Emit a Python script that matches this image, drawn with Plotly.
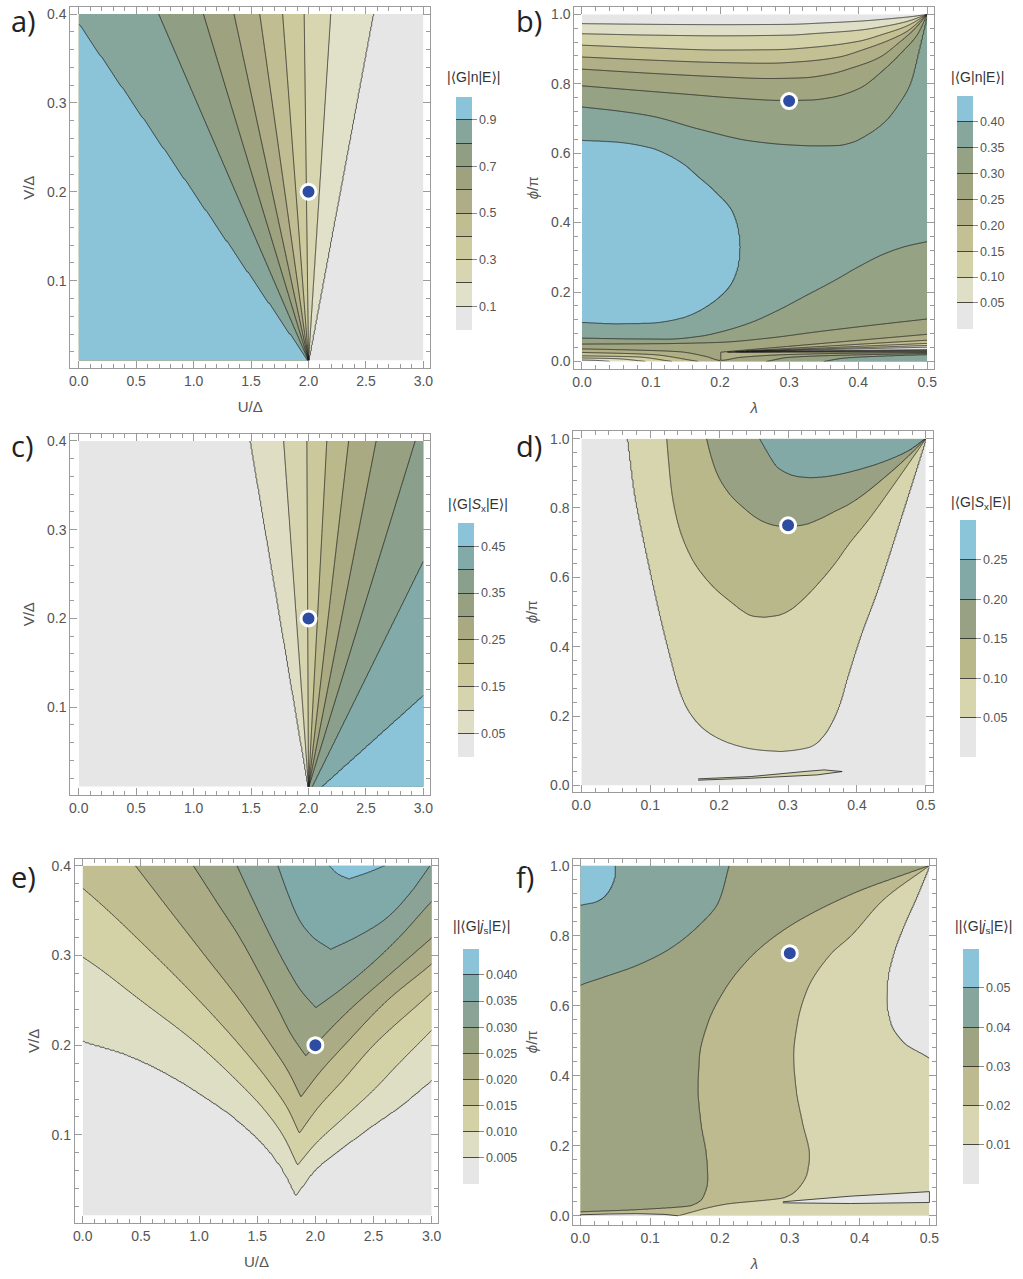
import numpy as np
import plotly.graph_objects as go

W, H = 1023, 1279

# ---------------- (a) |<G|n|E>| over U/Delta, V/Delta ----------------
a_levels = [0.1, 0.2, 0.3, 0.4, 0.5, 0.6, 0.7, 0.8, 0.9]
a_foot_U = [2.0, 2.0, 2.0, 2.0, 2.0, 2.0, 2.0, 2.0, 2.0]          # U of each line at V = 0.01
a_top_U = [2.562, 2.193, 1.962, 1.775, 1.576, 1.352, 1.086, 0.697, -0.053]  # U at V = 0.4
a_colors = ['#e6e6e6', '#e1e0c8', '#d8d6b1', '#cdcb9e', '#bfbd91', '#aead87',
            '#9ea27f', '#909f84', '#86a59b', '#8bc4d8']

# ---------------- (c) |<G|S_x|E>| over U/Delta, V/Delta ----------------
c_levels = [0.05, 0.10, 0.15, 0.20, 0.25, 0.30, 0.35, 0.40, 0.45]
c_foot_U = [2.0, 2.0, 2.0, 2.0, 2.0, 2.0, 2.0, 2.03, 2.107]
c_top_U = [1.496, 1.784, 1.986, 2.159, 2.349, 2.588, 2.928, 3.514, 5.456]
c_colors = ['#e6e6e6', '#dfdec5', '#d6d4ae', '#cbc99c', '#bab98c', '#a9aa82',
            '#97a080', '#8aa08c', '#81aaa8', '#8bc4d8']

# ---------------- (e) ||<G|j_s|E>| over U/Delta, V/Delta ----------------
e_levels = [0.005, 0.010, 0.015, 0.020, 0.025, 0.030, 0.035, 0.040]
e_left_V = [[0.033, 0.058, 0.084, 0.119, 0.145, 0.1675, 0.191, 0.205, 0.40],
            [0.0663, 0.10, 0.13, 0.16, 0.20, 0.25, 0.2984, 0.40],
            [0.1019, 0.13, 0.16, 0.20, 0.25, 0.30, 0.375, 0.40],
            [0.1423, 0.17, 0.20, 0.25, 0.30, 0.35, 0.40],
            [0.188, 0.21, 0.24, 0.28, 0.32, 0.36, 0.40],
            [0.2417, 0.26, 0.29, 0.32, 0.36, 0.40],
            [0.3066, 0.32, 0.34, 0.37, 0.40],
            [0.385, 0.39, 0.40]]
e_left_U = [[1.833, 1.734, 1.591, 1.307, 1.022, 0.737, 0.35, 0.0, -3.5],
            [1.847, 1.72, 1.55, 1.33, 1.0, 0.5, 0.0, -1.5],
            [1.862, 1.76, 1.6, 1.35, 1.0, 0.62, 0.0, -0.25],
            [1.876, 1.77, 1.62, 1.35, 1.05, 0.75, 0.453],
            [1.918, 1.8, 1.68, 1.52, 1.35, 1.15, 0.951],
            [2.004, 1.88, 1.74, 1.62, 1.47, 1.326],
            [2.132, 1.98, 1.86, 1.76, 1.677],
            [2.289, 2.2, 2.118]]
e_right_V = [[0.033, 0.0637, 0.0785, 0.1063, 0.1323, 0.1612, 0.40],
             [0.0663, 0.09, 0.12, 0.15, 0.18, 0.2168, 0.40],
             [0.1019, 0.13, 0.16, 0.20, 0.259, 0.40],
             [0.1423, 0.17, 0.20, 0.25, 0.2906, 0.40],
             [0.188, 0.21, 0.24, 0.28, 0.3195, 0.40],
             [0.2417, 0.26, 0.29, 0.32, 0.3603, 0.40],
             [0.3066, 0.32, 0.34, 0.37, 0.40],
             [0.385, 0.392, 0.40]]
e_right_U = [[1.833, 2.018, 2.161, 2.445, 2.730, 3.0, 5.2],
             [1.847, 2.0, 2.25, 2.5, 2.72, 3.0, 4.3],
             [1.862, 2.02, 2.23, 2.5, 3.0, 4.1],
             [1.876, 2.04, 2.25, 2.62, 3.0, 3.9],
             [1.918, 2.07, 2.3, 2.65, 3.0, 3.7],
             [2.004, 2.2, 2.48, 2.72, 3.0, 3.3],
             [2.132, 2.35, 2.6, 2.82, 2.986],
             [2.289, 2.45, 2.6]]
# bottom of the valley-shaped surface (lowest V reached by each line)
e_ridge_V = [0.01, 0.033, 0.0663, 0.1019, 0.1423, 0.188, 0.2417, 0.3066, 0.385, 0.40]
e_ridge_U = [1.83, 1.833, 1.847, 1.862, 1.876, 1.918, 2.004, 2.132, 2.289, 2.30]
e_ridge_z = [0.003, 0.005, 0.010, 0.015, 0.020, 0.025, 0.030, 0.035, 0.040, 0.0412]
e_colors = ['#e6e6e6', '#dedec4', '#d3d1a6', '#c1bf92', '#abab85', '#99a282',
            '#8aa396', '#80aaa9', '#8bc4d8']

# ---------------- (d) |<G|S_x|E>| over lambda, phi/pi ----------------
d_levels = [0.05, 0.10, 0.15, 0.20]
d_left_phi = [[0.098, 0.102, 0.113, 0.135, 0.16, 0.19, 0.23, 0.28, 0.367, 0.4626, 0.558, 0.6545, 0.75, 0.846, 1.0],
              [0.4846, 0.4875, 0.5, 0.5202, 0.5777, 0.6545, 0.7505, 0.8464, 0.9424, 1.0],
              [0.7457, 0.748, 0.7553, 0.77, 0.798, 0.84, 0.894, 0.95, 1.0],
              [0.8868, 0.89, 0.904, 0.92, 0.9424, 0.97, 1.0]]
d_left_lam = [[0.2896, 0.26, 0.23, 0.20, 0.18, 0.165, 0.152, 0.142, 0.130, 0.118, 0.107, 0.0965, 0.0865, 0.0775, 0.0677],
              [0.2656, 0.25, 0.236, 0.2224, 0.1888, 0.16, 0.1407, 0.1311, 0.1263, 0.1239],
              [0.2992, 0.285, 0.2704, 0.255, 0.2368, 0.215, 0.198, 0.188, 0.1816],
              [0.3329, 0.315, 0.2944, 0.283, 0.2752, 0.267, 0.2584]]
d_right_phi = [[0.098, 0.102, 0.112, 0.14, 0.175, 0.23, 0.309, 0.43, 0.5585, 0.78, 1.0],
               [0.4846, 0.49, 0.5055, 0.5298, 0.58, 0.6353, 0.70, 0.760, 0.88, 1.0],
               [0.7457, 0.75, 0.765, 0.79, 0.8129, 0.8848, 0.95, 1.0],
               [0.8868, 0.889, 0.895, 0.904, 0.933, 0.965, 1.0]]
d_right_lam = [[0.2896, 0.31, 0.333, 0.35, 0.3617, 0.374, 0.3857, 0.405, 0.4289, 0.465, 0.5],
               [0.2656, 0.285, 0.303, 0.3184, 0.343, 0.3665, 0.39, 0.4145, 0.458, 0.5],
               [0.2992, 0.32, 0.3425, 0.368, 0.3905, 0.4385, 0.475, 0.5],
               [0.3329, 0.35, 0.37, 0.3905, 0.4385, 0.475, 0.5]]
d_ridge_phi = [0.0, 0.098, 0.4846, 0.7457, 0.8868, 1.0]
d_ridge_lam = [0.29, 0.2896, 0.2656, 0.2992, 0.3329, 0.40]
d_ridge_z = [0.03, 0.05, 0.10, 0.15, 0.20, 0.245]
d_sliver_lam = [0.1695, 0.2464, 0.3232, 0.3521, 0.3785, 0.3425, 0.2464, 0.1695]
d_sliver_phi = [0.0192, 0.0259, 0.0403, 0.0451, 0.0403, 0.0307, 0.0211, 0.0154]
d_colors = ['#e6e6e6', '#d7d5ae', '#b9b88b', '#98a183', '#82a9a6', '#8bc5d9']

# ---------------- (f) ||<G|j_s|E>| over lambda, phi/pi ----------------
f_levels = [0.01, 0.02, 0.03, 0.04, 0.05]
f_line_phi = [[0.0, 0.3, 0.449, 0.494, 0.551, 0.618, 0.675, 0.751, 0.827, 0.9125, 1.0],
              [0.0, 0.033, 0.052, 0.076, 0.124, 0.171, 0.266, 0.361, 0.456, 0.551, 0.646, 0.748, 0.798, 0.903, 1.0],
              [0.0, 0.011, 0.017, 0.029, 0.052, 0.105, 0.171, 0.266, 0.361, 0.456, 0.551, 0.646, 0.741, 0.817, 0.917, 1.0],
              [0.0, 0.5, 0.658, 0.680, 0.713, 0.760, 0.827, 0.8935, 1.0],
              [0.0, 0.8, 0.886, 0.8954, 0.913, 0.941, 0.970, 1.0]]
f_line_lam = [[0.75, 0.58, 0.5, 0.463, 0.444, 0.4383, 0.440, 0.4488, 0.463, 0.482, 0.5],
              [0.14, 0.207, 0.292, 0.311, 0.325, 0.328, 0.318, 0.309, 0.3055, 0.311, 0.325, 0.359, 0.387, 0.4345, 0.5],
              [-0.1, 0.0, 0.079, 0.159, 0.176, 0.183, 0.181, 0.173, 0.169, 0.171, 0.183, 0.207, 0.245, 0.292, 0.387, 0.5],
              [-0.45, -0.1, 0.0, 0.0313, 0.0787, 0.1262, 0.1689, 0.1973, 0.213],
              [-0.6, -0.08, 0.0, 0.0218, 0.036, 0.0455, 0.0503, 0.0512]]
f_wedge_lam = [0.29, 0.387, 0.5, 0.5, 0.387, 0.29]
f_wedge_phi = [0.040, 0.056, 0.069, 0.038, 0.035, 0.037]
f_bump_lam = [0.0, 0.0, 0.04, 0.08, 0.12, 0.14]
f_bump_phi = [0.0, 0.003, 0.005, 0.006, 0.004, 0.0]
f_colors = ['#e6e6e6', '#d8d6b0', '#bcba8e', '#9ea482', '#86a69d', '#8bc4d8']

# ---------------- (b) |<G|n|E>| over lambda, phi/pi ----------------
b_up_levels = [0.05, 0.10, 0.15, 0.20, 0.25, 0.30, 0.35]
b_up_lam = [[0, 0.1, 0.2, 0.3, 0.35, 0.4, 0.45, 0.48, 0.5],
            [0, 0.1, 0.2, 0.3, 0.34, 0.4, 0.44, 0.47, 0.5],
            [0, 0.1, 0.2, 0.28, 0.34, 0.4, 0.44, 0.47, 0.5],
            [0, 0.1, 0.2, 0.27, 0.32, 0.37, 0.41, 0.45, 0.47, 0.5],
            [0, 0.1, 0.2, 0.27, 0.32, 0.36, 0.39, 0.43, 0.46, 0.48, 0.5],
            [0, 0.08, 0.15, 0.22, 0.29, 0.33, 0.36, 0.40, 0.44, 0.465, 0.485, 0.5],
            [0, 0.05, 0.1, 0.17, 0.245, 0.30, 0.34, 0.37, 0.39, 0.415, 0.44, 0.46, 0.475, 0.49, 0.5]]
b_up_phi = [[0.973, 0.971, 0.970, 0.971, 0.975, 0.980, 0.988, 0.994, 1.0],
            [0.944, 0.940, 0.938, 0.940, 0.945, 0.954, 0.966, 0.979, 1.0],
            [0.911, 0.903, 0.897, 0.898, 0.906, 0.922, 0.945, 0.966, 1.0],
            [0.877, 0.868, 0.861, 0.859, 0.864, 0.876, 0.90, 0.93, 0.95, 1.0],
            [0.842, 0.830, 0.820, 0.815, 0.817, 0.828, 0.845, 0.875, 0.92, 0.955, 1.0],
            [0.794, 0.781, 0.770, 0.759, 0.752, 0.753, 0.760, 0.785, 0.846, 0.895, 0.94, 1.0],
            [0.733, 0.722, 0.707, 0.669, 0.635, 0.624, 0.621, 0.622, 0.630, 0.655, 0.693, 0.745, 0.798, 0.914, 1.0]]
b_blob_top_lam = [0.0, 0.05, 0.1, 0.125, 0.15, 0.17, 0.185, 0.198, 0.208, 0.216, 0.221, 0.2245,
                  0.227, 0.2285, 0.2293, 0.2296]
b_blob_top_phi = [0.637, 0.632, 0.615, 0.595, 0.565, 0.530, 0.505, 0.480, 0.460, 0.440, 0.420, 0.400,
                  0.380, 0.360, 0.345, 0.328]
b_blob_bot_lam = [0.0, 0.05, 0.1, 0.125, 0.15, 0.17, 0.19, 0.205, 0.214, 0.22, 0.224, 0.227, 0.2285,
                  0.2293, 0.2296]
b_blob_bot_phi = [0.112, 0.108, 0.110, 0.116, 0.128, 0.145, 0.170, 0.195, 0.215, 0.235, 0.255, 0.275,
                  0.295, 0.310, 0.328]
b_low_levels = [0.05, 0.10, 0.15, 0.20, 0.25, 0.30, 0.35]
b_low_lam = [[0, 0.02, 0.04],
             [0, 0.05, 0.0916],
             [0, 0.08, 0.13],
             [0, 0.10, 0.168],
             [0, 0.07, 0.14, 0.18, 0.20, 0.23, 0.3, 0.4, 0.5],
             [0, 0.1, 0.2, 0.27, 0.34, 0.42, 0.5],
             [0, 0.06, 0.125, 0.17, 0.207, 0.245, 0.283, 0.325, 0.365, 0.40, 0.437, 0.47, 0.5]]
b_low_phi = [[0.004, 0.003, 0.0],
             [0.010, 0.008, 0.0],
             [0.016, 0.013, 0.0],
             [0.026, 0.020, 0.0],
             [0.036, 0.033, 0.028, 0.014, 0.003, 0.012, 0.020, 0.024, 0.026],
             [0.050, 0.051, 0.055, 0.067, 0.085, 0.104, 0.122],
             [0.067, 0.065, 0.064, 0.072, 0.088, 0.112, 0.146, 0.19, 0.232, 0.272, 0.309, 0.332, 0.345]]
# narrow trough near phi = 0.03 with the lines packed on either side of it
b_trough_lam = [0.20, 0.24, 0.5]
b_trough_phi = [0.026, 0.029, 0.036]
b_trough_z = [0.249, 0.0, 0.0]
b_above_levels = [0.05, 0.10, 0.15, 0.20, 0.25]
b_above_end_phi = [0.041, 0.046, 0.052, 0.061, 0.078]
b_below_levels = [0.05, 0.10, 0.15, 0.20]
b_below_end_phi = [0.034, 0.032, 0.030, 0.028]
b_below_extra = [(0.30, [0.267, 0.3, 0.4, 0.5], [0.0, 0.012, 0.019, 0.023]),
                 (0.35, [0.35, 0.38, 0.44, 0.5], [0.0, 0.010, 0.016, 0.020])]
b_floor_lam = [0, 0.04, 0.0916, 0.13, 0.168, 0.20, 0.267, 0.35, 0.5]
b_floor_z = [0.0, 0.05, 0.10, 0.15, 0.20, 0.25, 0.30, 0.35, 0.375]
b_ridge_lam = [0, 0.2296, 0.35, 0.5]
b_ridge_phi = [0.36, 0.328, 0.42, 0.60]
b_ridge_z = [0.43, 0.40, 0.38, 0.375]
b_colors = ['#e6e6e6', '#dfdec7', '#d3d1a7', '#c3c194', '#b0af87', '#a2a680',
            '#96a284', '#87a69c', '#8bc4d8']

# marked working points
pt_U, pt_V = 2.0, 0.2
pt_lam, pt_phi = 0.3, 0.75


def pchip(xq, xp, yp):
    """Monotone piecewise-cubic curve through the read points."""
    xq = np.asarray(xq, float)
    xp = np.asarray(xp, float)
    yp = np.asarray(yp, float)
    n = len(xp)
    if n < 3:
        return np.interp(xq, xp, yp)
    h = np.diff(xp)
    d = np.diff(yp) / h
    m = np.zeros(n)
    for k in range(1, n - 1):
        if d[k - 1] * d[k] > 0:
            w1, w2 = 2 * h[k] + h[k - 1], h[k] + 2 * h[k - 1]
            m[k] = (w1 + w2) / (w1 / d[k - 1] + w2 / d[k])
    m[0], m[-1] = d[0], d[-1]
    idx = np.clip(np.searchsorted(xp, xq) - 1, 0, n - 2)
    t = np.clip((xq - xp[idx]) / h[idx], 0, 1)
    h00 = 2 * t ** 3 - 3 * t ** 2 + 1
    h10 = t ** 3 - 2 * t ** 2 + t
    h01 = -2 * t ** 3 + 3 * t ** 2
    h11 = t ** 3 - t ** 2
    return h00 * yp[idx] + h10 * h[idx] * m[idx] + h01 * yp[idx + 1] + h11 * h[idx] * m[idx + 1]


def field(s_grid, t_grid, lines, knots):
    """Rebuild a surface row by row from where its contour lines cross each row.

    lines: (level, s_points, t_points) - crossing position t of one contour line as a function of s
    knots: (s_points, t_points, z_points) - extra values (ridges, floors, far edges)
    """
    pos, val = [], []
    for lev, sp, tp in lines:
        t = pchip(s_grid, sp, tp)
        t[(s_grid < sp[0] - 1e-9) | (s_grid > sp[-1] + 1e-9)] = np.nan
        pos.append(t)
        val.append(np.full(len(s_grid), float(lev)))
    for sp, tp, zp in knots:
        t = pchip(s_grid, sp, tp)
        t[(s_grid < sp[0] - 1e-9) | (s_grid > sp[-1] + 1e-9)] = np.nan
        pos.append(t)
        val.append(np.interp(s_grid, sp, zp))
    pos, val = np.array(pos).T, np.array(val).T
    Z = np.empty((len(s_grid), len(t_grid)))
    for i in range(len(s_grid)):
        ok = ~np.isnan(pos[i])
        kt, kz = pos[i][ok], val[i][ok]
        o = np.argsort(kt, kind='stable')
        Z[i] = np.interp(t_grid, kt[o], kz[o])
    return Z


U = np.linspace(0.0, 3.0, 361)
V = np.linspace(0.0102, 0.4, 236)
LAM = np.linspace(0.0, 0.4998, 301)
PHI = np.linspace(0.0, 0.9998, 1001)

# (a)
za = field(V, U, [(l, [0.01, 0.4], [f0, f1]) for l, f0, f1 in zip(a_levels, a_foot_U, a_top_U)],
           [([0.01, 0.4], [-50, -50], [1.0, 1.0]), ([0.01, 0.4], [50, 50], [0.0, 0.0])])
# (c)
zc = field(V, U, [(l, [0.01, 0.4], [f0, f1]) for l, f0, f1 in zip(c_levels, c_foot_U, c_top_U)],
           [([0.01, 0.4], [-50, -50], [0.0, 0.0]), ([0.01, 0.4], [50, 50], [0.5, 0.5])])
# (e)
e_lines = [(l, v, u) for l, v, u in zip(e_levels, e_left_V, e_left_U)] + \
          [(l, v, u) for l, v, u in zip(e_levels, e_right_V, e_right_U)]
ze = field(V, U, e_lines, [(e_ridge_V, e_ridge_U, e_ridge_z),
                           ([0.01, 0.4], [-50, -50], [0.0, 0.0]), ([0.01, 0.4], [50, 50], [0.0, 0.0])])
# (d)
d_lines = [(l, p, m) for l, p, m in zip(d_levels, d_left_phi, d_left_lam)] + \
          [(l, p, m) for l, p, m in zip(d_levels, d_right_phi, d_right_lam)]
zd = field(PHI, LAM, d_lines, [(d_ridge_phi, d_ridge_lam, d_ridge_z),
                               ([0, 1], [-5, -5], [0.0, 0.0]), ([0, 1], [5, 5], [0.0, 0.0])])
# (f)
zf = field(PHI, LAM, [(l, p, m) for l, p, m in zip(f_levels, f_line_phi, f_line_lam)],
           [([0, 1], [-5, -5], [0.06, 0.06]), ([0, 1], [5, 5], [0.0, 0.0])])
# (b) : built column by column (phi as a function of lambda)
b_lines = [(l, m, p) for l, m, p in zip(b_up_levels, b_up_lam, b_up_phi)]
b_lines += [(0.40, b_blob_top_lam, b_blob_top_phi), (0.40, b_blob_bot_lam, b_blob_bot_phi)]
b_lines += [(l, m, p) for l, m, p in zip(b_low_levels, b_low_lam, b_low_phi)]


def trough_start(level):
    """lambda (and phi) where the trough first drops below a level"""
    s0 = float(np.interp(level, b_trough_z[::-1], b_trough_lam[::-1]))
    return s0, float(np.interp(s0, b_trough_lam, b_trough_phi))


for l, pa in zip(b_above_levels, b_above_end_phi):
    s0, p0 = trough_start(l)
    b_lines.append((l, [s0, 0.5], [p0, pa]))
for l, pb in zip(b_below_levels, b_below_end_phi):
    s0, p0 = trough_start(l)
    b_lines.append((l, [s0, 0.5], [p0, pb]))
b_lines += b_below_extra
b_knots = [(b_trough_lam, b_trough_phi, b_trough_z),
           (b_floor_lam, [0.0] * len(b_floor_lam), b_floor_z),
           (b_ridge_lam, b_ridge_phi, b_ridge_z),
           ([0, 0.5], [1.0, 1.0], [0.02, 0.02])]
zb = field(LAM, PHI, b_lines, b_knots).T

# ---------------- layout geometry (pixels) ----------------
panels = {
    'a': dict(px=(67.7, 430.0, 6.0, 368.0), xr=(-0.074, 3.058), yr=(0.0013, 0.408)),
    'b': dict(px=(575.3, 937.3, 6.0, 368.3), xr=(-0.011, 0.5096), yr=(-0.021, 1.021)),
    'c': dict(px=(67.7, 430.0, 433.3, 795.0), xr=(-0.074, 3.058), yr=(0.0013, 0.4083)),
    'd': dict(px=(574.3, 936.7, 431.0, 792.7), xr=(-0.0115, 0.5107), yr=(-0.020, 1.021)),
    'e': dict(px=(72.3, 438.3, 859.0, 1224.0), xr=(-0.068, 3.057), yr=(0.0018, 0.4078)),
    'f': dict(px=(574.3, 939.0, 859.0, 1225.7), xr=(-0.010, 0.5088), yr=(-0.0257, 1.02)),
}
order = ['a', 'b', 'c', 'd', 'e', 'f']

FRAME = '#9b9b9b'
TICKFONT = dict(family='Liberation Sans, Arial, sans-serif', size=14, color='#555555')
TITLEFONT = dict(family='Liberation Sans, DejaVu Sans, sans-serif', size=15, color='#555555')
LINE = 'rgba(30,30,30,0.78)'

fig = go.Figure()


def contour(xv, yv, z, levels, colors, k):
    nc = len(levels)
    step = levels[1] - levels[0]
    cs = [[j / nc, colors[j]] for j in range(nc + 1)]
    return go.Contour(x=xv, y=yv, z=np.round(z, 6), xaxis='x%d' % k, yaxis='y%d' % k,
                      colorscale=cs, autocontour=False,
                      contours=dict(start=levels[0], end=levels[0] + step * (nc - 1), size=step,
                                    coloring='fill', showlines=True),
                      line=dict(color=LINE, width=1, smoothing=0),
                      showscale=False, hoverinfo='skip')


fig.add_trace(contour(U, V, za, a_levels, a_colors, 1))
fig.add_trace(contour(LAM, PHI, zb, [0.05, 0.10, 0.15, 0.20, 0.25, 0.30, 0.35, 0.40], b_colors, 2))
fig.add_trace(contour(U, V, zc, c_levels, c_colors, 3))
fig.add_trace(contour(LAM, PHI, zd, [0.05, 0.10, 0.15, 0.20, 0.25], d_colors, 4))
fig.add_trace(contour(U, V, ze, e_levels, e_colors, 5))
fig.add_trace(contour(LAM, PHI, zf, f_levels, f_colors, 6))

# small closed regions drawn on top
fig.add_trace(go.Scatter(x=d_sliver_lam, y=d_sliver_phi, xaxis='x4', yaxis='y4', fill='toself',
                         fillcolor=d_colors[1], mode='lines', line=dict(color=LINE, width=1),
                         showlegend=False, hoverinfo='skip'))
for lx, ly in [(f_wedge_lam, f_wedge_phi), (f_bump_lam, f_bump_phi)]:
    fig.add_trace(go.Scatter(x=lx, y=ly, xaxis='x6', yaxis='y6', fill='toself',
                             fillcolor=f_colors[0], mode='lines', line=dict(color=LINE, width=1),
                             showlegend=False, hoverinfo='skip'))

# working points
for k, (px_, py_) in enumerate([(pt_U, pt_V), (pt_lam, pt_phi)] * 3, start=1):
    fig.add_trace(go.Scatter(x=[px_], y=[py_], xaxis='x%d' % k, yaxis='y%d' % k, mode='markers',
                             marker=dict(size=15, color='#2d4ca2', line=dict(color='white', width=3)),
                             showlegend=False, hoverinfo='skip'))

# ---------------- colour bars ----------------
bars = [
    ('a', a_levels, a_colors, [0.1, 0.3, 0.5, 0.7, 0.9], '{:.1f}', 456.0, 95.7, 232.6),
    ('b', [0.05, 0.10, 0.15, 0.20, 0.25, 0.30, 0.35, 0.40], b_colors,
     [0.05, 0.10, 0.15, 0.20, 0.25, 0.30, 0.35, 0.40], '{:.2f}', 960.7, 95.0, 233.0),
    ('c', c_levels, c_colors, [0.05, 0.15, 0.25, 0.35, 0.45], '{:.2f}', 458.0, 522.7, 234.0),
    ('d', [0.05, 0.10, 0.15, 0.20, 0.25], d_colors, [0.05, 0.10, 0.15, 0.20, 0.25], '{:.2f}',
     964.0, 520.0, 236.7),
    ('e', e_levels, e_colors, e_levels, '{:.3f}', 462.7, 949.3, 234.7),
    ('f', f_levels, f_colors, f_levels, '{:.2f}', 966.7, 949.3, 234.7),
]
for key, lev, cols, labs, fmt, bx, by, blen in bars:
    step = lev[1] - lev[0]
    lo, hi = lev[0] - step, lev[-1] + step
    nb = len(cols)
    cs = []
    for j, c in enumerate(cols):
        cs += [[j / nb, c], [(j + 1) / nb, c]]
    geo = dict(thickness=16, len=blen, lenmode='pixels', x=bx / W, xanchor='left',
               y=1 - by / H, yanchor='top', xpad=0, ypad=0, outlinewidth=0)
    fig.add_trace(go.Scatter(x=[None], y=[None], mode='markers', showlegend=False, hoverinfo='skip',
                             marker=dict(color=[lo], cmin=lo, cmax=hi, colorscale=cs, showscale=True,
                                         colorbar=dict(**geo, tickmode='array', tickvals=lev,
                                                       ticks='inside', ticklen=16, tickwidth=1,
                                                       tickcolor=LINE, showticklabels=False))))
    fig.add_trace(go.Scatter(x=[None], y=[None], mode='markers', showlegend=False, hoverinfo='skip',
                             marker=dict(color=[lo], cmin=lo, cmax=hi,
                                         colorscale=[[0, 'rgba(0,0,0,0)'], [1, 'rgba(0,0,0,0)']],
                                         showscale=True,
                                         colorbar=dict(**geo, tickmode='array', tickvals=labs,
                                                       ticktext=[fmt.format(v) for v in labs],
                                                       ticks='outside', ticklen=5, tickwidth=1,
                                                       tickcolor='#8a8a8a',
                                                       tickfont=dict(family=TICKFONT['family'], size=12.5,
                                                                     color='#555555')))))

# ---------------- axes ----------------
layout_axes = {}
for k, key in enumerate(order, start=1):
    p = panels[key]
    x0, x1, y0, y1 = p['px']
    is_U = key in ('a', 'c', 'e')
    common = dict(showgrid=False, zeroline=False, showline=True, linecolor=FRAME, linewidth=1,
                  mirror='allticks', ticks='inside', ticklen=7, tickwidth=1, tickcolor=FRAME,
                  tickfont=TICKFONT, tickformat='.1f', fixedrange=True)
    xa = dict(common, domain=[x0 / W, x1 / W], range=list(p['xr']), anchor='y%d' % k,
              tick0=0, dtick=0.5 if is_U else 0.1,
              minor=dict(ticks='inside', ticklen=4, tickcolor=FRAME, dtick=0.1 if is_U else 0.02))
    ya = dict(common, domain=[1 - y1 / H, 1 - y0 / H], range=list(p['yr']), anchor='x%d' % k,
              tick0=0, dtick=0.1 if is_U else 0.2,
              minor=dict(ticks='inside', ticklen=4, tickcolor=FRAME, dtick=0.02 if is_U else 0.04))
    if key in ('a', 'e'):
        xa['title'] = dict(text='U/Δ', font=TITLEFONT, standoff=13)
    if key in ('b', 'f'):
        xa['title'] = dict(text='<i>λ</i>', font=TITLEFONT, standoff=13)
    ya['title'] = dict(text='V/Δ' if is_U else '<i>ϕ</i>/π', font=TITLEFONT, standoff=8)
    sfx = '' if k == 1 else str(k)
    layout_axes['xaxis' + sfx] = xa
    layout_axes['yaxis' + sfx] = ya

# ---------------- labels ----------------
ann = []
for txt, x, y in [('a)', 6, 20), ('b)', 515, 20), ('c)', 6, 445), ('d)', 515, 445),
                  ('e)', 6, 877), ('f)', 515, 877)]:
    ann.append(dict(text=txt, x=x / W, y=1 - y / H, xref='paper', yref='paper', showarrow=False,
                    xanchor='left', yanchor='middle',
                    font=dict(family='Open Sans, DejaVu Sans, sans-serif', size=29, color='#222222')))
bar_titles = [('|⟨G|n|E⟩|', 474, 76), ('|⟨G|n|E⟩|', 981, 76),
              ('|⟨G|<i>S</i><sub>x</sub>|E⟩|', 478, 505), ('|⟨G|<i>S</i><sub>x</sub>|E⟩|', 985, 503),
              ('||⟨G|<i>j</i><sub>s</sub>|E⟩|', 482, 927), ('||⟨G|<i>j</i><sub>s</sub>|E⟩|', 987, 927)]
for txt, x, y in bar_titles:
    ann.append(dict(text=txt, x=x / W, y=1 - y / H, xref='paper', yref='paper', showarrow=False,
                    xanchor='center', yanchor='middle',
                    font=dict(family='Liberation Sans, DejaVu Sans, sans-serif', size=14, color='#333333')))

fig.update_layout(width=W, height=H, margin=dict(l=0, r=0, t=0, b=0),
                  paper_bgcolor='white', plot_bgcolor='white', showlegend=False,
                  annotations=ann, **layout_axes)

fig.write_html('out.html')
